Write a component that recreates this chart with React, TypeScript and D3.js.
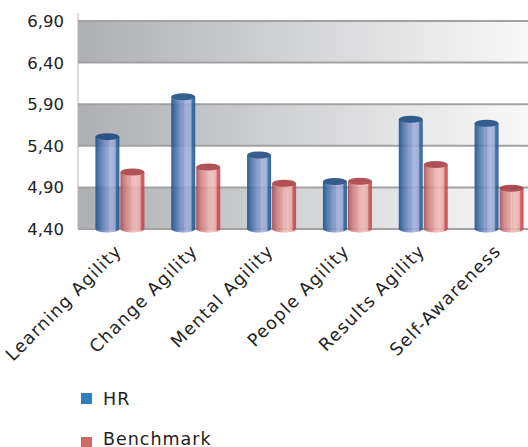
import React from "react";
import * as d3 from "d3";

const categories = ["Learning Agility", "Change Agility", "Mental Agility", "People Agility", "Results Agility", "Self-Awareness"];
const seriesNames = ["HR", "Benchmark"];
const hrValues = [5.51, 5.99, 5.29, 4.97, 5.72, 5.67];
const benchmarkValues = [5.085, 5.145, 4.95, 4.975, 5.175, 4.89];
const yTicks = [4.4, 4.9, 5.4, 5.9, 6.4, 6.9];
const legendColors = ["#2e80c1", "#cf6b67"];

const W = 528, H = 447;
const plotLeft = 78, plotRight = 528;
const y = d3.scaleLinear().domain([4.4, 6.9]).range([229, 21]);
const x = d3.scaleBand<string>().domain(categories).range([82, 537]);
const xs = d3.scaleBand<string>().domain(seriesNames).range([0, x.bandwidth()]).paddingInner(0.04).paddingOuter(0.536);
const fmt = (v: number) => d3.format(".2f")(v).replace(".", ",");
const font = "'DejaVu Sans', Verdana, sans-serif";

function Cylinder({ cx0, w, top, bottom, body, cap, line }: any) {
  const rx = w / 2, ry = 3.5;
  const cx = cx0 + rx;
  const d = `M${cx0},${top} L${cx0},${bottom} A${rx},${ry} 0 0 0 ${cx0 + w},${bottom} L${cx0 + w},${top} Z`;
  return (
    <g opacity={0.88}>
      <path d={d} fill={`url(#${body})`} />
      <line x1={cx} x2={cx} y1={top} y2={bottom + ry} stroke={line} strokeWidth={0.8} opacity={0.7} />
      <ellipse cx={cx} cy={top} rx={rx} ry={ry} fill={cap} />
    </g>
  );
}

export default function App() {
  const bands: [number, number][] = [[6.4, 6.9], [5.4, 5.9], [4.4, 4.9]];
  return (
    <svg width={W} height={H} style={{ position: "absolute", left: 0, top: 0 }} fontFamily={font}>
      <defs>
        <linearGradient id="bandGrad" x1="0" x2="1" y1="0" y2="0">
          <stop offset="0" stopColor="#aeafb2" />
          <stop offset="0.45" stopColor="#d0d1d3" />
          <stop offset="1" stopColor="#f9f9f9" />
        </linearGradient>
        <linearGradient id="blueGrad" x1="0" x2="1" y1="0" y2="0">
          <stop offset="0" stopColor="#1c4c84" />
          <stop offset="0.2" stopColor="#4672aa" />
          <stop offset="0.5" stopColor="#8e9ed0" />
          <stop offset="0.65" stopColor="#a6b1da" />
          <stop offset="0.82" stopColor="#95a4d2" />
          <stop offset="0.88" stopColor="#2a63a2" />
          <stop offset="1" stopColor="#1b558f" />
        </linearGradient>
        <linearGradient id="redGrad" x1="0" x2="1" y1="0" y2="0">
          <stop offset="0" stopColor="#a9494d" />
          <stop offset="0.2" stopColor="#cf7f80" />
          <stop offset="0.5" stopColor="#eaaaa8" />
          <stop offset="0.65" stopColor="#f1bcb8" />
          <stop offset="0.82" stopColor="#e9a9a6" />
          <stop offset="0.88" stopColor="#cc4f55" />
          <stop offset="1" stopColor="#c2444a" />
        </linearGradient>
      </defs>
      {bands.map(([a, b], i) => (
        <rect key={i} x={plotLeft} y={y(b)} width={plotRight - plotLeft} height={y(a) - y(b)} fill="url(#bandGrad)" />
      ))}
      <line x1={plotLeft} x2={plotLeft} y1={13} y2={y(4.4)} stroke="#b8b8b8" strokeWidth={1} />
      {yTicks.map((t) => (
        <g key={t}>
          <line x1={plotLeft} x2={plotRight} y1={y(t)} y2={y(t)} stroke="#a2a2a2" strokeWidth={2} />
          <text x={64} y={y(t)} dy="0.36em" textAnchor="end" fontSize={16.5} fill="#222">{fmt(t)}</text>
        </g>
      ))}
      {categories.map((c, i) => {
        const x0 = x(c)!;
        const w = xs.bandwidth();
        return (
          <g key={c}>
            <Cylinder cx0={x0 + xs("HR")!} w={w} top={y(hrValues[i])} bottom={y(4.4)} body="blueGrad" cap="#17487e" line="#6a88c0" />
            <Cylinder cx0={x0 + xs("Benchmark")!} w={w} top={y(benchmarkValues[i])} bottom={y(4.4)} body="redGrad" cap="#a63b3f" line="#f4c8c4" />
          </g>
        );
      })}
      {categories.map((c) => {
        const cx = x(c)! + x.bandwidth() / 2 + 3;
        const cy = 252;
        return (
          <text key={c} x={cx} y={cy} textAnchor="end" transform={`rotate(-45 ${cx} ${cy})`} fontSize={17.5} letterSpacing={1.2} fill="#222">{c}</text>
        );
      })}
      {seriesNames.map((s, i) => (
        <g key={s}>
          <rect x={81} y={393 + i * 44} width={11} height={11} fill={legendColors[i]} />
          <text x={103} y={405 + i * 40} fontSize={17.5} letterSpacing={1} fill="#222">{s}</text>
        </g>
      ))}
    </svg>
  );
}
